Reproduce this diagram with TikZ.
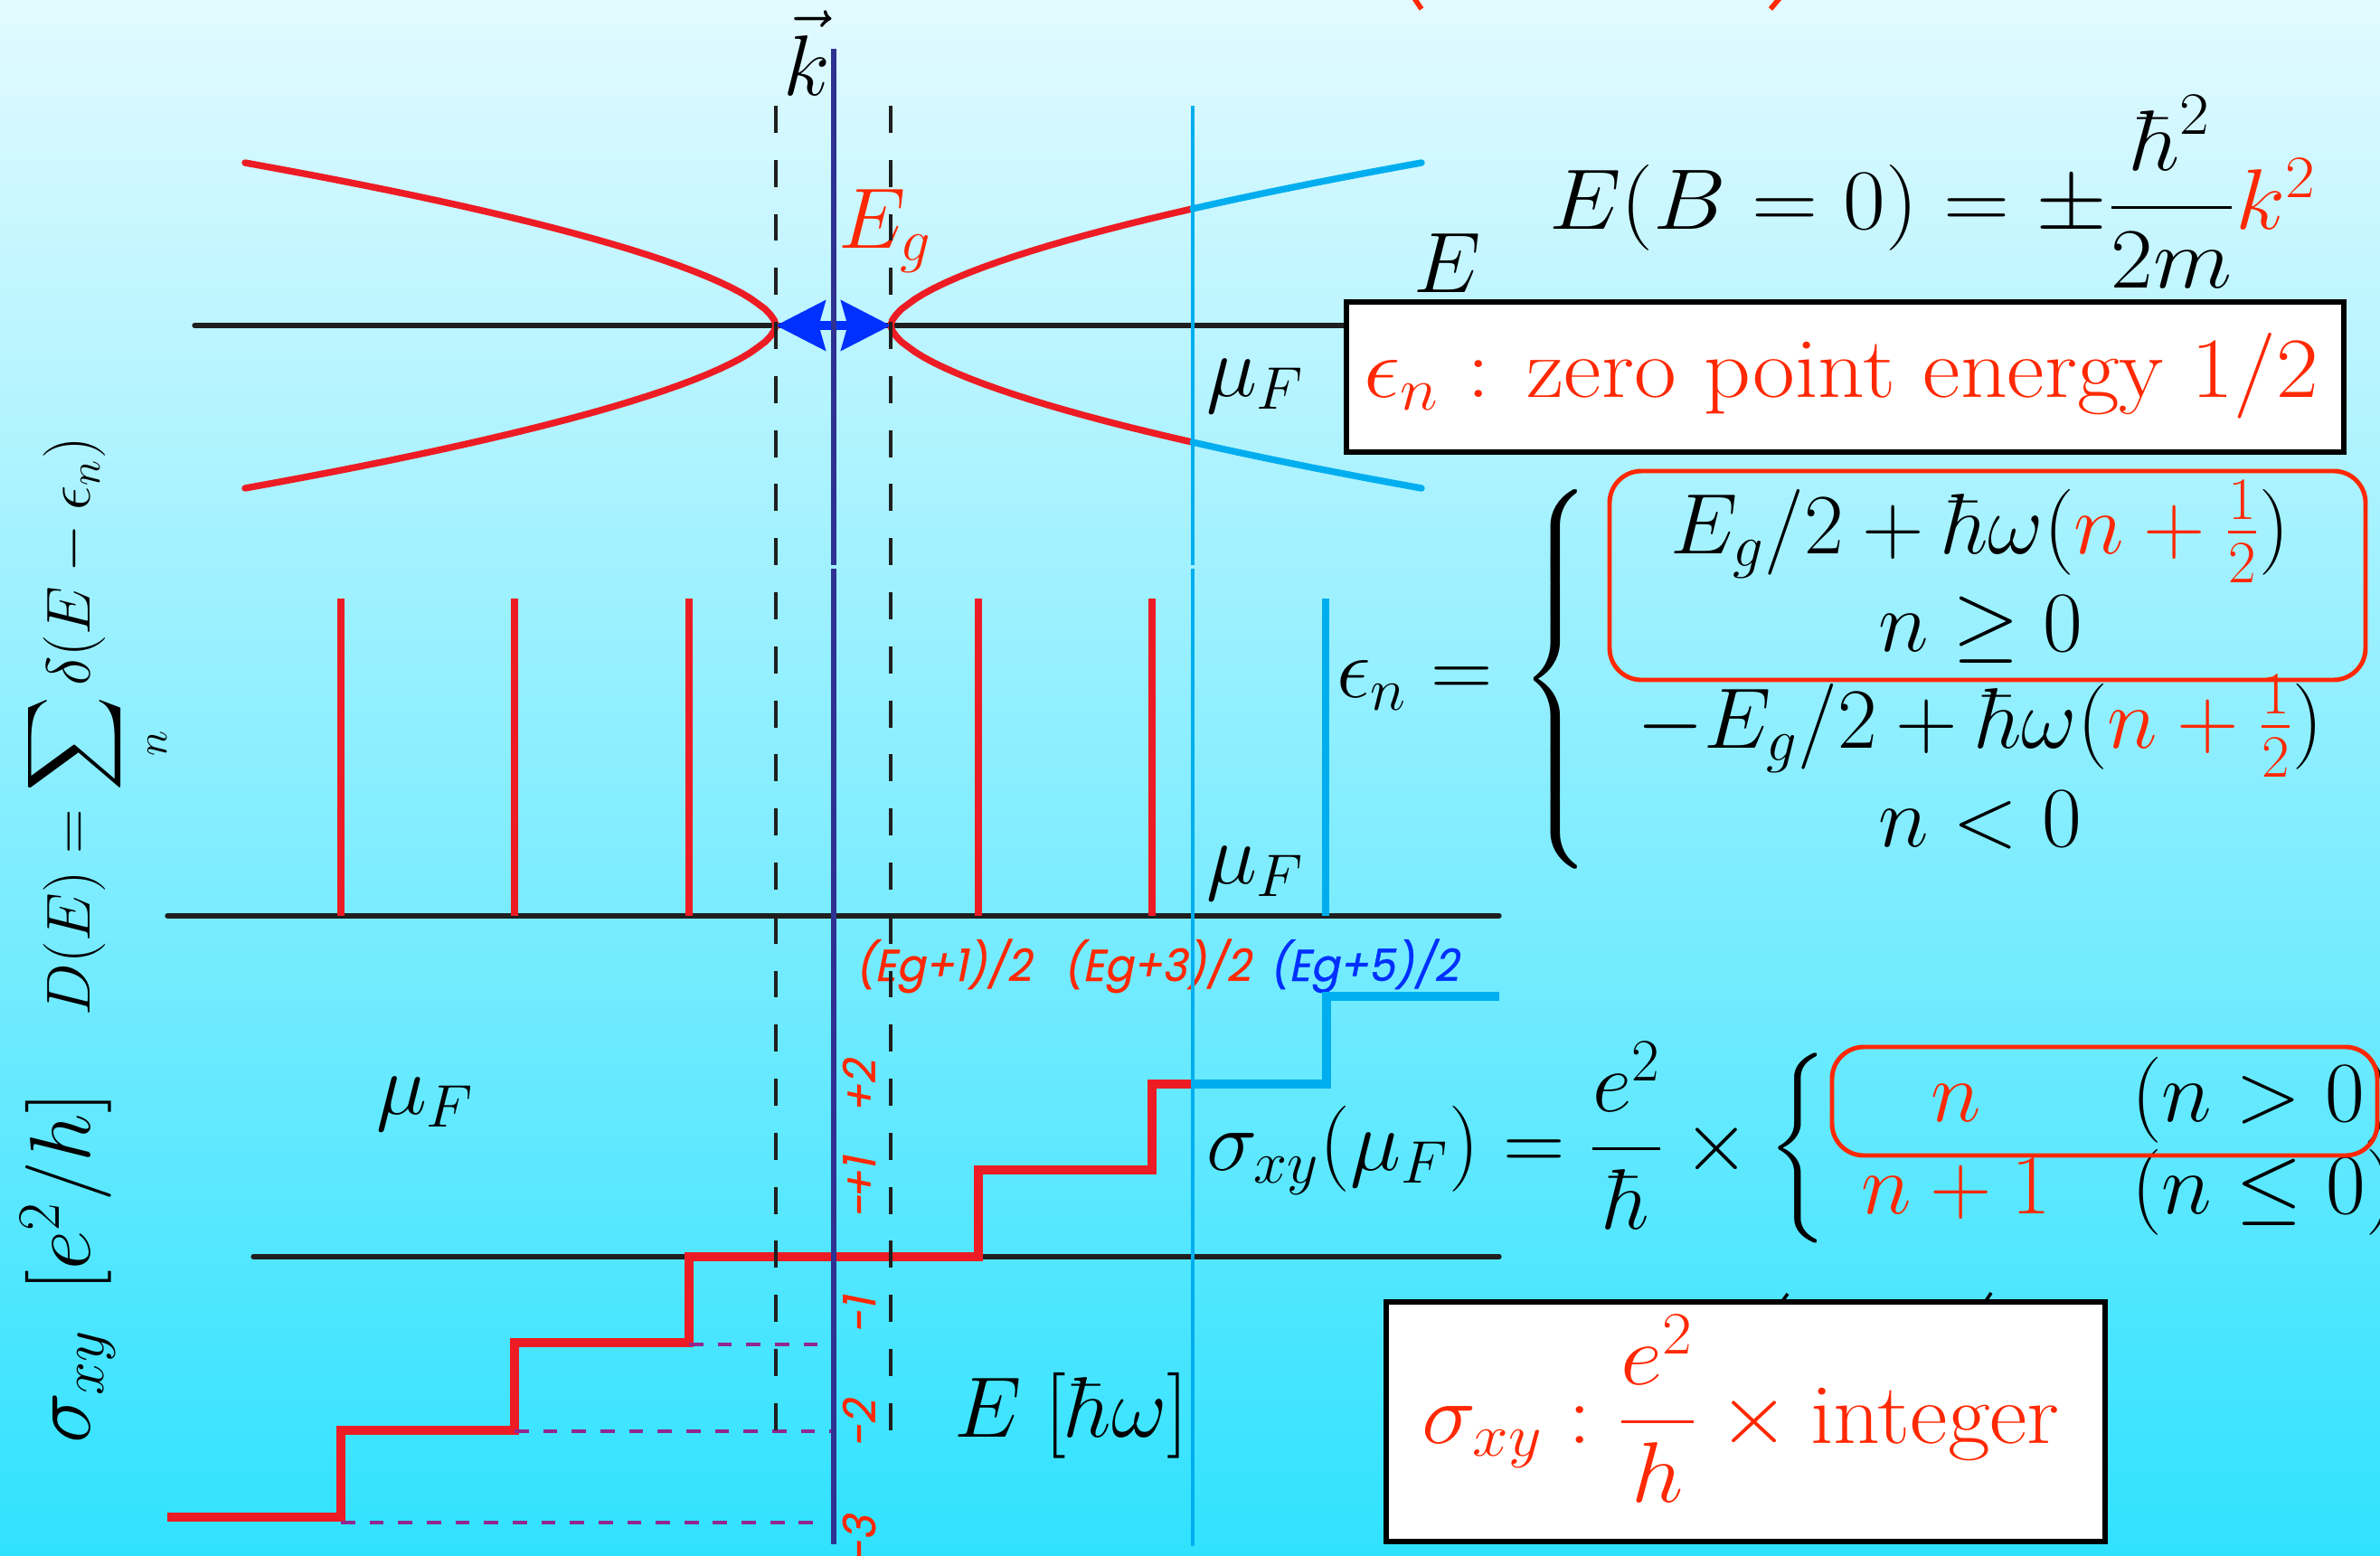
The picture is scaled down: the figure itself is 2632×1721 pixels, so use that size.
\documentclass[tikz,border=0pt]{standalone}
\usepackage{fix-cm}
\usepackage{amsmath}
\usepackage{graphicx}
\usepackage{fontspec}
\newfontfamily\gfont[FakeSlant=0.2,FakeBold=0.7,FakeStretch=0.95]{Poppins}
\usetikzlibrary{arrows.meta}
\definecolor{bgtop}{RGB}{226,250,255}
\definecolor{bgbot}{RGB}{48,226,255}
\definecolor{cvred}{RGB}{237,28,36}
\definecolor{txred}{RGB}{255,40,0}
\definecolor{txblue}{RGB}{0,48,255}
\definecolor{cyanl}{RGB}{0,174,239}
\definecolor{navyl}{RGB}{46,49,146}
\definecolor{purp}{RGB}{146,39,143}
\newcommand\hstretch[1]{\scalebox{1.07}[1]{#1}}
\begin{document}
\begin{tikzpicture}[x=0.01cm,y=-0.01cm,
  every node/.style={inner sep=0pt,outer sep=0pt,font=\fontsize{27}{32}\selectfont},
  curve/.style={line width=2.1pt,line cap=round},
  axisline/.style={black!88,line width=1.5pt,line cap=round},
  dline/.style={black!88,line width=1.4pt,dash pattern=on 8.5pt off 8.5pt},
  pdash/.style={purp,line width=1.35pt,dash pattern=on 4.5pt off 4.5pt},
  stepline/.style={line width=2.7pt},
  deltaline/.style={line width=2.3pt},
  glabel/.style={font=\gfont\fontsize{14}{16}\selectfont},
  wbox/.style={draw=black,fill=white,line width=1.7pt},
  rbox/.style={draw=txred,line width=1.4pt,rounded corners=10pt},
  gaparrow/.style={txblue,line width=3pt,{Stealth[length=15.5pt,width=15.5pt,inset=2pt]}-{Stealth[length=15.5pt,width=15.5pt,inset=2pt]}}
]
% background
\shade[top color=bgtop,bottom color=bgbot] (0,0) rectangle (2632,1721);
\useasboundingbox (0,0) rectangle (2632,1721);

% clipped fragments
\draw[txred,line width=1.6pt] (1564,-2) -- (1572,10);
\draw[txred,line width=1.6pt] (1968,-2) -- (1958,10);
\draw[black,line width=1pt] (1977,1431) -- (1969,1442);
\draw[black,line width=1pt] (2202,1430) -- (2194,1442);

% ---------- texts ----------
\node[anchor=base] (kvec) at (892,105) {$\vec{k}$};
\node[anchor=base west,text=txred] (Eg) at (927,274) {$E_g$};
\node[anchor=base west] (Eax) at (1563,323) {$E$};
\node[anchor=base west] (disp) at (1713,253) {\hstretch{$E(B=0) = \pm\dfrac{\hbar^2}{2m}\textcolor{txred}{k^2}$}};
\node[anchor=base west] (mu1) at (1334,438) {$\mu_F$};
\node[anchor=base west] (mu2) at (1334,977) {$\mu_F$};
\node[anchor=base west] (mu3) at (416,1232) {$\mu_F$};
\node[anchor=base west] (epsn) at (1478,771) {$\epsilon_n =$};
\node (br1) at (1722,751) {$\delimitershortfall=0pt\left\{\vcenter{\hbox{\vrule height 4.0cm width 0pt}}\right.$};
\node[anchor=base] (r1) at (2190,612) {$E_g/2+\hbar\omega(\textcolor{txred}{n+\frac{1}{2}})$};
\node[anchor=base] (r2) at (2190,720) {$n\geq 0$};
\node[anchor=base] (r3) at (2190,827) {$-E_g/2+\hbar\omega(\textcolor{txred}{n+\frac{1}{2}})$};
\node[anchor=base] (r4) at (2190,936) {$n<0$};
\draw[rbox] (1780,521) rectangle (2616,752);

\node[rotate=90,anchor=base west,font=\fontsize{19.5}{23}\selectfont] (DE) at (100,1123) {$D(E) = \displaystyle\sum_n \delta(E-\epsilon_n)$};
\node[rotate=90,anchor=base west] (sxy) at (100,1596) {$\sigma_{xy}$};
\node[rotate=90,anchor=base west] (unit) at (100,1428) {$[e^2/h]$};
\node[anchor=base west] (Ehw) at (1055,1589) {$E\;[\hbar\omega]$};

\node[anchor=base west] (sig) at (1334,1294) {$\sigma_{xy}(\mu_F) = \dfrac{e^2}{\hbar}\times{}$};
\node (br2) at (1990,1270) {$\delimitershortfall=0pt\left\{\vcenter{\hbox{\vrule height 2.0cm width 0pt}}\right.$};
\node[anchor=base,text=txred] (c1) at (2163,1240) {$n$};
\node[anchor=base west] (c2) at (2357,1240) {$(n>0)$};
\node[anchor=base,text=txred] (c3) at (2163,1342) {$n+1$};
\node[anchor=base west] (c4) at (2357,1342) {$(n\leq 0)$};
\draw[rbox] (2026,1158) rectangle (2629,1278);

\node[glabel,anchor=base west,text=txred] (l1) at (946,1085) {(Eg+1)/2};
\node[glabel,anchor=base west,text=txred] (l3) at (1176,1085) {(Eg+3)/2};
\node[glabel,anchor=base west,text=txblue] (l5) at (1404,1085) {(Eg+5)/2};
\node[glabel,rotate=90,anchor=base,text=txred] (m3) at (968,1703) {-3};
\node[glabel,rotate=90,anchor=base,text=txred] (m2) at (968,1575) {-2};
\node[glabel,rotate=90,anchor=base,text=txred] (m1) at (968,1455) {-1};
\node[glabel,rotate=90,anchor=base,text=txred] (p1) at (968,1314) {-\kern-1.5pt+1};
\node[glabel,rotate=90,anchor=base,text=txred] (p2) at (968,1202) {+2};

% ---------- axes ----------
\draw[axisline] (215,360) -- (1489,360);
\draw[axisline] (185,1013) -- (1658,1013);
\draw[axisline] (280,1390) -- (1658,1390);

% ---------- dispersion ----------
\draw[curve,cvred] plot[domain=-180:180,samples=61] ({858-587*((abs(\x)+0.01)/180)^1.7},{360+\x});
\draw[curve,cvred] plot[domain=-129.2:129.2,samples=45] ({985+587*((abs(\x)+0.01)/180)^1.7},{360+\x});
\draw[curve,cyanl] plot[domain=129.2:180,samples=10] ({985+587*((abs(\x)+0.01)/180)^1.7},{360+\x});
\draw[curve,cyanl] plot[domain=-180:-129.2,samples=10] ({985+587*((abs(\x)+0.01)/180)^1.7},{360+\x});

% ---------- density of states ----------
\foreach \xx in {377,569,762,1082,1274} \draw[deltaline,cvred] (\xx,662) -- (\xx,1013);
\draw[deltaline,cyanl] (1466,662) -- (1466,1013);

% ---------- Hall steps ----------
\draw[stepline,cvred] (185,1678) -| (377,1582) -| (569,1485) -| (762,1390) -| (1082,1294) -| (1274,1199) -- (1319,1199);
\draw[stepline,cyanl] (1319,1199) -| (1467,1102) -- (1658,1102);
\draw[pdash] (762,1487) -- (906,1487);
\draw[pdash] (569,1583) -- (925,1583);
\draw[pdash] (377,1684) -- (906,1684);

% ---------- gap arrow ----------
\draw[gaparrow] (858,360) -- (985,360);

% ---------- vertical lines ----------
\draw[dline] (858,117) -- (858,1582);
\draw[dline] (985,117) -- (985,1582);
\draw[navyl,line width=1.5pt] (922,54) -- (922,625) (922,629) -- (922,1708);
\draw[cyanl,line width=1.2pt] (1319,117) -- (1319,625) (1319,629) -- (1319,1710);

% ---------- boxes ----------
\draw[wbox] (1489,334) rectangle (2592,500);
\node[anchor=base west,text=txred] (zp) at (1508,439) {\hstretch{$\epsilon_n$ : zero point energy 1/2}};
\draw[wbox] (1533,1440) rectangle (2328,1705);
\node[anchor=base west,text=txred] (integ) at (1572,1596) {\hstretch{$\sigma_{xy} : \dfrac{e^2}{h} \times{}$integer}};
\end{tikzpicture}
\end{document}
